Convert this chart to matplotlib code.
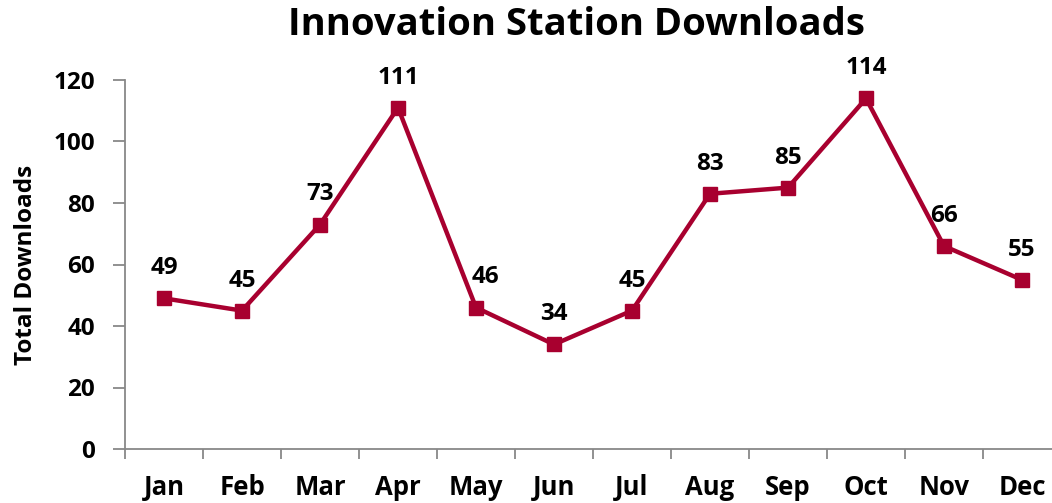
"""Innovation Station downloads per month, Excel-style line chart."""

import matplotlib
matplotlib.use("Agg")
import matplotlib.pyplot as plt
from matplotlib.ticker import FixedLocator

months = ["Jan", "Feb", "Mar", "Apr", "May", "Jun",
          "Jul", "Aug", "Sep", "Oct", "Nov", "Dec"]
downloads = [49, 45, 73, 111, 46, 34, 45, 83, 85, 114, 66, 55]
y_ticks = [0, 20, 40, 60, 80, 100, 120]

LINE = "#A8002F"
AXIS = "#888888"

plt.rcParams["font.family"] = ["Open Sans", "DejaVu Sans"]
plt.rcParams["font.weight"] = "bold"

W, H = 1052, 503
fig = plt.figure(figsize=(W / 100, H / 100), dpi=100)
# the plot area runs a little past the right edge, as in the source picture
left, right, top, bottom = 125, 1061, 80, 449
ax = fig.add_axes([left / W, 1 - bottom / H, (right - left) / W, (bottom - top) / H])

x = list(range(len(months)))
ax.plot(x, downloads, color=LINE, linewidth=3.2, marker="s", markersize=9.5,
        clip_on=False, zorder=3)

# Excel pushed the May label sideways to clear the line
nudge = {4: 6.5}
for xi, v in zip(x, downloads):
    ax.annotate(str(v), (xi, v), xytext=(nudge.get(xi, 0), 13),
                textcoords="offset points", ha="center", va="bottom",
                fontsize=17.5, fontweight="bold")

ax.set_xlim(-0.5, len(months) - 0.5)
ax.set_ylim(0, 120)
ax.set_yticks(y_ticks)
ax.set_xticks(x)
ax.set_xticklabels(months)
ax.xaxis.set_minor_locator(FixedLocator([i - 0.5 for i in range(len(months) + 1)]))

for side in ("top", "right"):
    ax.spines[side].set_visible(False)
for side in ("left", "bottom"):
    ax.spines[side].set_color(AXIS)
    ax.spines[side].set_linewidth(1.3)

ax.tick_params(axis="y", length=8.5, width=1.3, color=AXIS, pad=13,
               labelsize=17.5)
ax.tick_params(axis="x", which="major", length=0, pad=18, labelsize=18.5)
ax.tick_params(axis="x", which="minor", length=7, width=1.3, color=AXIS)
for lab in ax.get_xticklabels() + ax.get_yticklabels():
    lab.set_fontweight("bold")

ax.set_ylabel("Total Downloads", fontsize=17.5, fontweight="bold")
ax.yaxis.set_label_coords(-(left - 38) / (right - left), 0.5)

fig.text(576 / W, 1 - 25 / H, "Innovation Station Downloads", ha="center",
         va="center", fontsize=27.5, fontweight="bold")

fig.savefig("out.png", dpi=100)
